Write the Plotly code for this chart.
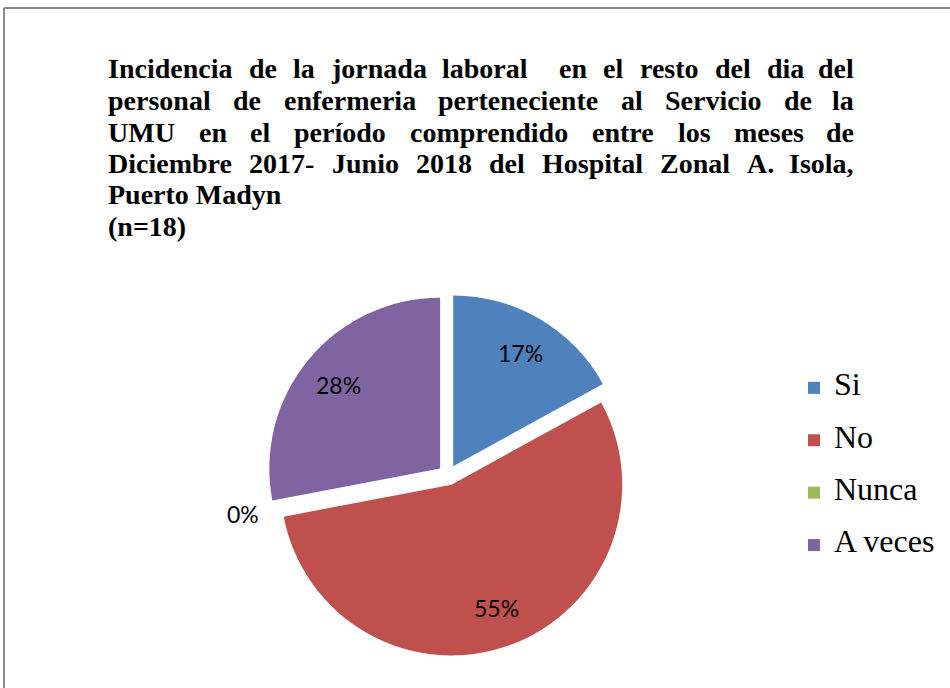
import math
import plotly.graph_objects as go

# ---- data ----
labels = ["Si", "No", "Nunca", "A veces"]
values = [17, 55, 0, 28]
colors = ["#4F81BD", "#C0504D", "#9BBB59", "#8064A2"]

title_lines = [
    "Incidencia de la jornada laboral  en el resto del dia del",
    "personal de enfermeria perteneciente al Servicio de la",
    "UMU en el período comprendido entre los meses de",
    "Diciembre 2017- Junio 2018 del Hospital Zonal A. Isola,",
    "Puerto Madyn",
    "(n=18)",
]
justified = [True, True, True, True, False, False]

W, H = 950, 688
TITLE_SIZE = 28
TITLE_X0, TITLE_X1 = 107, 855
TITLE_Y0, TITLE_DY = 69, 31.5

# pie geometry (pixels)
PULL = 0.06
DOM_X = (267, 629)
DOM_Y = (294, 656)

# Times-Bold advance widths (per 1000 em) for justification
TB = {' ': 250, '(': 333, ')': 333, '-': 333, '.': 250, ',': 250, '=': 570,
      'A': 722, 'D': 722, 'H': 778, 'I': 389, 'J': 500, 'M': 944, 'P': 611,
      'S': 556, 'U': 722, 'Z': 667,
      'a': 500, 'b': 556, 'c': 444, 'd': 556, 'e': 444, 'f': 333, 'g': 500,
      'h': 556, 'i': 278, 'j': 333, 'k': 556, 'l': 278, 'm': 833, 'n': 556,
      'o': 500, 'p': 556, 'r': 444, 's': 389, 't': 333, 'u': 556, 'v': 500,
      'y': 500, 'z': 444, 'í': 278}
for dgt in "0123456789":
    TB[dgt] = 500


def word_w(w):
    return sum(TB.get(c, 500) for c in w) * TITLE_SIZE / 1000.0


annotations = []
title_font = dict(family="Liberation Serif", size=TITLE_SIZE, color="black",
                  weight="bold")
for k, line in enumerate(title_lines):
    yc = TITLE_Y0 + k * TITLE_DY
    ypaper = 1 - yc / H
    if not justified[k]:
        annotations.append(dict(text=line, x=TITLE_X0 / W, y=ypaper,
                                xref="paper", yref="paper", xanchor="left",
                                yanchor="middle", showarrow=False, font=title_font,
                                borderpad=0))
        continue
    tokens = line.split(" ")
    words = [t for t in tokens if t]
    n_spaces = len(tokens) - 1
    total = sum(word_w(w) for w in words)
    sp = (TITLE_X1 - TITLE_X0 - total) / n_spaces
    x = TITLE_X0
    wi = 0
    for t in tokens:
        if t == "":
            x += sp
            continue
        last = wi == len(words) - 1
        annotations.append(dict(text=t,
                                x=(TITLE_X1 if last else x) / W, y=ypaper,
                                xref="paper", yref="paper",
                                xanchor="right" if last else "left",
                                yanchor="middle", showarrow=False,
                                font=title_font, borderpad=0))
        x += word_w(t) + sp
        wi += 1

# data labels placed like Excel's best-fit: along each slice's mid angle
cx = (DOM_X[0] + DOM_X[1]) / 2
cy = (DOM_Y[0] + DOM_Y[1]) / 2
r = min(DOM_X[1] - DOM_X[0], DOM_Y[1] - DOM_Y[0]) / 2 / (1 + PULL)
total_v = sum(values)
cum = 0
label_font = dict(family="Lato, Carlito, Calibri, sans-serif", size=23, color="black")
for v in values:
    frac_mid = (cum + v / 2) / total_v
    ang = 2 * math.pi * frac_mid
    dx, dy = math.sin(ang), -math.cos(ang)
    px0 = cx + PULL * r * dx
    py0 = cy + PULL * r * dy
    rr = 0.77 * r if v > 0 else 1.16 * r
    lx, ly = px0 + rr * dx, py0 + rr * dy
    annotations.append(dict(text="%d%%" % round(100 * v / total_v),
                            x=lx / W, y=1 - ly / H, xref="paper", yref="paper",
                            xanchor="center", yanchor="middle", showarrow=False,
                            font=label_font))
    cum += v

legend_names = ["<span style='font-size:32px'>%s</span><br>\u00a0" % l for l in labels]

fig = go.Figure(go.Pie(
    labels=legend_names,
    values=values,
    marker=dict(colors=colors, line=dict(width=0)),
    sort=False,
    direction="clockwise",
    rotation=0,
    pull=[PULL] * len(values),
    textinfo="none",
    domain=dict(x=[DOM_X[0] / W, DOM_X[1] / W], y=[1 - DOM_Y[1] / H, 1 - DOM_Y[0] / H]),
    hoverinfo="percent",
    automargin=False,
))

shapes = [
    dict(type="line", xref="paper", yref="paper", x0=4 / W, x1=4 / W,
         y0=-0.05, y1=1 - 8 / H, line=dict(color="#8a8a8a", width=2)),
    dict(type="line", xref="paper", yref="paper", x0=4 / W, x1=1.05,
         y0=1 - 8 / H, y1=1 - 8 / H, line=dict(color="#8a8a8a", width=2)),
]

fig.update_layout(
    width=W, height=H,
    margin=dict(l=0, r=0, t=0, b=0),
    paper_bgcolor="white", plot_bgcolor="white",
    showlegend=True,
    legend=dict(x=794 / W, y=1 - 369 / H, xanchor="left", yanchor="top",
                font=dict(family="Liberation Serif", size=19, color="black"),
                valign="top", bgcolor="rgba(0,0,0,0)"),
    annotations=annotations,
    shapes=shapes,
)

fig.write_html("out.html", config={"displayModeBar": False},
               post_script="document.body.style.margin='0';")
